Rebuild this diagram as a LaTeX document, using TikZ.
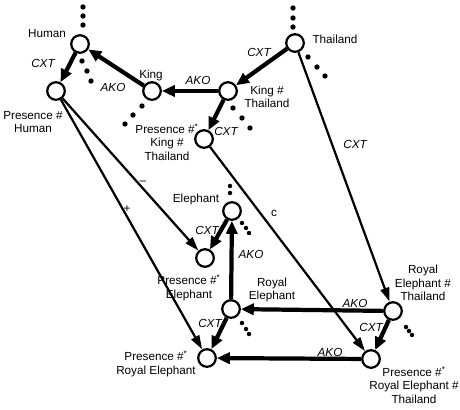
\documentclass[tikz,border=0pt]{standalone}
\usepackage{fontspec}
\setmainfont{Liberation Sans}
\usetikzlibrary{arrows.meta}
\begin{document}
\begin{tikzpicture}[x=0.03cm,y=-0.03cm,
  concept/.style={circle,draw,line width=1.9pt,minimum size=15pt,inner sep=0pt},
  heavy/.style={line width=3.6pt,-{Triangle[length=11pt,width=9.5pt]}},
  light/.style={line width=1.9pt,-{Triangle[length=12pt,width=7.5pt]}},
  txt/.style={font=\fontsize{10}{11.6}\selectfont,align=center,inner sep=0pt},
  rel/.style={font=\fontsize{10}{11.6}\selectfont\itshape,inner sep=0pt}]
\useasboundingbox (0,0) rectangle (460,409);
\node [concept] (n1) at (80,44) {};
\node [concept] (n2) at (56,91) {};
\node [concept] (n3) at (152,91) {};
\node [concept] (n4) at (295,43) {};
\node [concept] (n5) at (228,91) {};
\node [concept] (n6) at (204,139) {};
\node [concept] (n7) at (232,211) {};
\node [concept] (n8) at (205,258) {};
\node [concept] (n9) at (231,309) {};
\node [concept] (n10) at (207,358) {};
\node [concept] (n11) at (393,311) {};
\node [concept] (n12) at (371,359) {};
\node [txt] (t1) at (47,34) {Human};
\node [txt] (t2) at (33,122) {Presence \#\\Human};
\node [txt] (t3) at (151,75) {King};
\node [txt] (t4) at (335,39) {Thailand};
\node [txt] (t5) at (267,97) {King \#\\Thailand};
\node [txt] (t6) at (167,142) {Presence \#\textsuperscript{*}\\King \#\\Thailand};
\node [txt] (t7) at (196,199) {Elephant};
\node [txt] (t8) at (189,288) {Presence \#\textsuperscript{*}\\Elephant};
\node [txt] (t9) at (272,290) {Royal\\Elephant};
\node [txt] (t10) at (156,364) {Presence \#\textsuperscript{*}\\Royal Elephant};
\node [txt] (t11) at (423,283) {Royal\\Elephant \#\\Thailand};
\node [txt] (t12) at (414,385) {Presence \#\textsuperscript{*}\\Royal Elephant \#\\Thailand};
\draw [heavy] (n1) -- (n2);
\draw [heavy] (n3) -- (n1);
\draw [heavy] (n5) -- (n3);
\draw [heavy] (n4) -- (n5);
\draw [heavy] (n5) -- (n6);
\draw [heavy] (n7) -- (n8);
\draw [heavy] (n9) -- (n7);
\draw [heavy] (n9) -- (n10);
\draw [heavy] (n11) -- (n9);
\draw [heavy] (n12) -- (n10);
\draw [heavy] (n11) -- (n12);
\draw [light] (n4) -- (n11);
\draw [light] (n2) -- (n8);
\draw [light] (n2) -- (n10);
\draw [light] (n6) -- (n12);
\node [rel] (r1) at (43,63) {CXT};
\node [rel] (r2) at (113,87) {AKO};
\node [rel] (r3) at (198,80) {AKO};
\node [rel] (r4) at (259,52) {CXT};
\node [rel] (r5) at (226,131) {CXT};
\node [rel] (r6) at (355,144) {CXT};
\node [rel] (r7) at (207,230) {CXT};
\node [rel] (r8) at (251,254) {AKO};
\node [rel] (r9) at (210,323) {CXT};
\node [rel] (r10) at (355,303) {AKO};
\node [rel] (r11) at (371,327) {CXT};
\node [rel] (r12) at (330,352) {AKO};
\node [txt] (s1) at (143,183) {--};
\node [txt] (s2) at (127,209) {+};
\node [txt] (s3) at (274,213) {c};
\foreach \p in {(83,7),(83,16),(83,25),(82,61),(87,71),(91,81),
  (142,106),(133,115),(125,124),(293,8),(293,18),(293,27),
  (308,57),(317,67),(325,76),(233,108),(242,118),(250,128)}
  \fill \p circle (2.3pt);
\foreach \p in {(230,186),(230,193),(242,223),(246,228),(249,233),
  (242,323),(246,329),(249,334),(406,327),(409,331),(412,335)}
  \fill \p circle (1.9pt);
\end{tikzpicture}
\end{document}
